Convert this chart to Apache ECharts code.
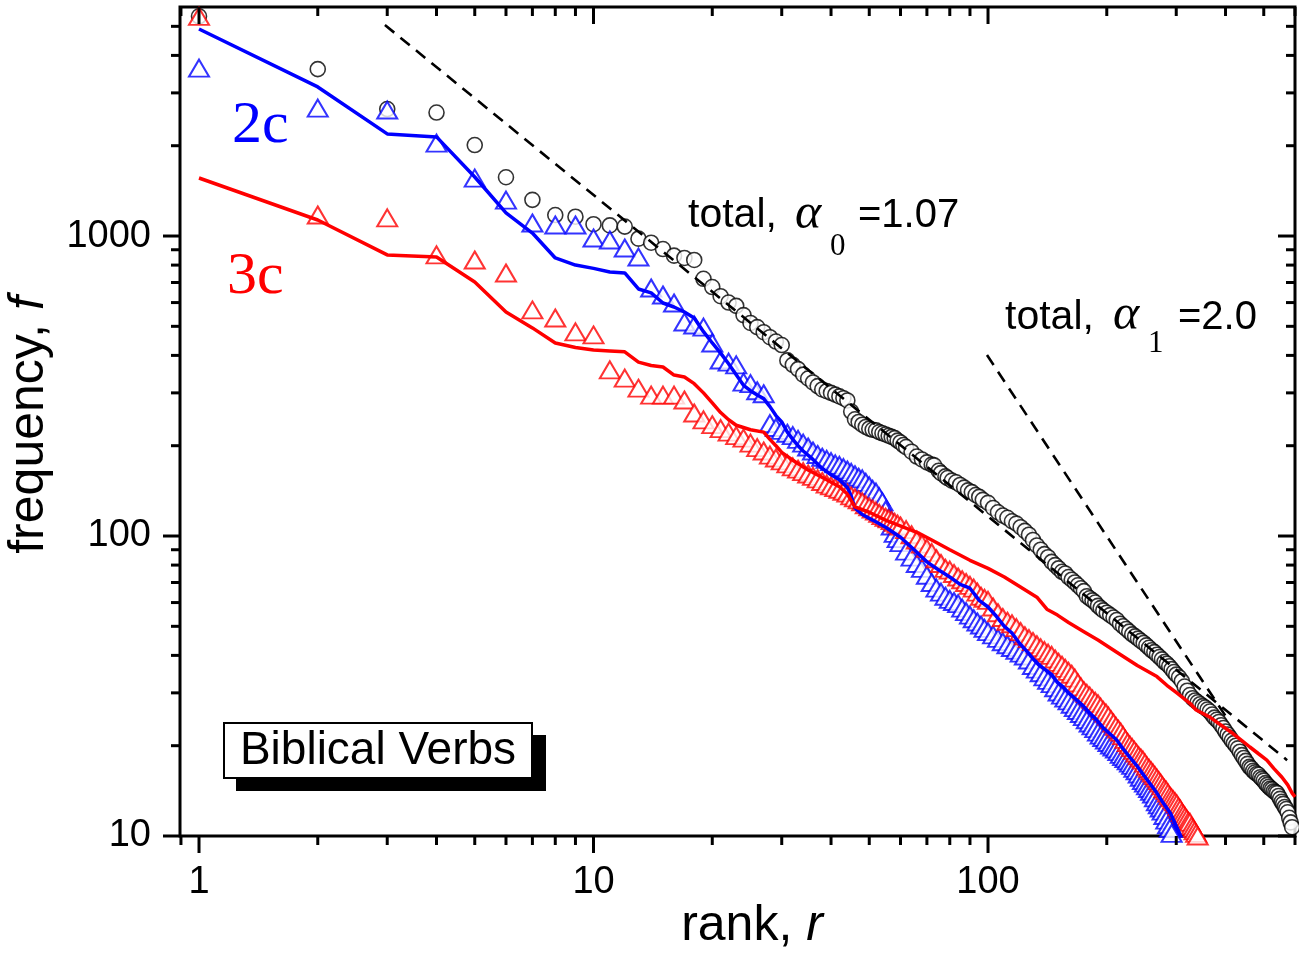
<!DOCTYPE html>
<html>
<head>
<meta charset="utf-8">
<title>Biblical Verbs - rank frequency</title>
<script src="https://cdn.jsdelivr.net/npm/echarts@6/dist/echarts.min.js"></script>
<style>
  html, body { margin: 0; padding: 0; background: #fff; }
  #chart { width: 1299px; height: 961px; }
</style>
</head>
<body>
<div id="chart"></div>
<script>
// ---- data ----
const totalRank = [1,2,3,4,5,6,7,8,9,10,11,12,13,14,15,16,17,18,19,20,21,22,23,24,25,26,27,28,29,30,31,32,33,
  34,35,36,37,38,39,40,41,42,43,44,45,46,47,48,49,50,51,52,53,54,55,56,57,58,59,60,61,62,64,66,68,70,72,73,75,76,78,79,81,83,85,87,89,91,93,95,97,
  100,103,106,109,112,115,118,121,124,127,130,133,136,139,142,145,148,151,154,157,160,163,166,169,172,175,178,181,184,187,190,193,196,
  200,204,208,212,216,220,224,228,232,236,240,244,248,252,256,260,264,268,272,276,280,284,288,292,296,
  300,305,310,315,320,325,330,335,340,345,350,355,360,365,370,375,380,385,390,395,400,405,410,415,420,425,430,435,440,445,
  450,455,460,465,470,475,480,485,490,495,500,505,510,515,520,525,530,535,540,545,550,555,560,565,570,575,580,585,590];
const totalFreq = [5400,3600,2650,2580,2010,1570,1320,1175,1160,1095,1085,1075,980,950,905,860,845,832,720,676,630,600,585,545,513,497,478,460,445,433,385,372,360,
  345,335,325,316,308,304,300,296,292,288,283,260,245,240,235,231,228,226,225,222,220,218,216,214,212,208,205,201,198,191,184,180,176,173,172,165,162,158,156,153,151,148,145,142,140,137,135,132,
  129,124,120,117,115,112,110,107,104,101,97,93,90,87,85,82,80,78,76,75,73,71.5,70,68.5,67,65.5,63,62,61,60,58.5,57.5,56.5,
  55.5,54.5,53.5,52.5,51,50,49,48,47,46.3,45.5,44.7,44,43.2,42.4,41.6,41,40.2,39.5,38.8,38,37.5,36.8,36,35.2,
  34.5,33.8,32.8,31.5,30.5,29.5,28.8,28.3,27.9,27.5,27.1,26.8,26.4,26,25.4,24.8,24.4,24,23.4,22.9,22.3,21.8,21.3,20.8,20.4,20,19.6,19.1,18.6,18.2,
  17.8,17.4,17,16.8,16.5,16.3,16.1,16,15.7,15.5,15.3,15,14.8,14.6,14.4,14.3,14.1,14,13.9,13.6,13.3,13,12.8,12.5,12.3,12,11.5,11.1,10.7];

const twoCRank = [1,2,3,4,5,6,7,8,9,10,11,12,13,14,15,16,17,18,19,20,21,22,23,24,25,26,27,28,29,
  30,31,32,33,34,35,36,37,38,39,40,41,42,43,44,45,46,47,48,49,50,51,52,53,54,55,56,57,58,59,
  60,62,64,66,68,70,72,74,76,78,80,82,84,86,88,90,92,94,96,98,
  100,103,106,109,112,115,118,121,124,127,130,133,136,139,142,145,148,151,154,157,160,163,166,169,172,175,178,181,184,187,190,193,196,199,
  202,205,208,211,214,217,220,223,226,229,232,235,238,241,244,247,250,253,256,259,262,265,268,271,274,277,280,283,286,289,292,295];
const twoCFreq = [3630,2670,2630,2040,1560,1318,1105,1088,1088,985,970,912,851,671,636,598,517,505,497,440,386,380,372,326,322,305,298,237,230,
  225,220,216,210,204,198,192,187,183,180,177,174,172,169,166,163,160,157,155,151,147,143,140,135,130,122,115,108,102,98,
  95,89,85,81,78,74,70,67,65,63,61.5,60.5,59.5,57.5,56,54.5,53,51.7,50.5,49.2,
  48,46.8,45.6,44.4,43.4,42.5,41.6,40.7,39.8,38.6,37,36,35,33.9,33,32.2,31.2,30.2,29.5,28.8,28.2,27.5,26.8,26.2,25.6,25,24.4,23.8,23.3,22.8,22.2,21.7,21.3,20.9,
  20.5,20.1,19.8,19.5,19.1,18.7,18.4,18.1,17.8,17.5,17.2,16.8,16.5,16.1,15.7,15.3,15,14.7,14.4,14.1,13.8,13.4,13,12.7,12.4,12.1,11.7,11.3,10.9,10.6,10.2,9.9];

const threeCRank = [1,2,3,4,5,6,7,8,9,10,11,12,13,14,15,16,17,18,19,20,21,22,23,24,25,26,27,28,29,
  30,31,32,33,34,35,36,37,38,39,40,41,42,43,44,45,46,47,48,49,50,51,52,53,54,55,56,57,58,59,
  60,62,64,66,68,70,72,74,76,78,80,82,84,86,88,90,92,94,96,98,
  100,103,106,109,112,115,118,121,124,127,130,133,136,139,142,145,148,151,154,157,160,163,166,169,172,175,178,181,184,187,190,193,196,199,
  202,205,208,211,214,217,220,223,226,229,232,235,238,241,244,247,250,253,256,259,262,265,268,271,274,277,280,283,286,289,292,295,298,
  301,304,307,310,313,316,319,322,325,328,331,334,337,340];
const threeCFreq = [5400,1175,1150,865,832,753,567,533,479,468,358,336,311,295,295,295,284,257,244,235,228,222,216,212,204,197,192,186,182,
  178,174,170,167,164,161,158,155,152,149,147,145,143,141,139,136,134,132,130,127,125,123,121,119,117,115.5,114,112.5,111,109.5,
  108,105,101,97,94,91,88,84,81,78,77,75,73,71.5,70,68.5,67,65,63,62,
  61,58,55.5,53.5,52,51,49.5,48,46.5,45.5,44.5,43.4,42.4,41.5,40.7,40,38.9,37.9,37.1,36.2,35.4,34.6,33.6,32.4,31.4,30.5,29.9,29.3,28.6,28.1,27.6,26.9,26.2,25.7,
  25.1,24.4,23.8,23.2,22.7,22.2,21.6,21,20.5,20.1,19.7,19.3,18.9,18.5,18.2,17.9,17.5,17.1,16.8,16.5,16.2,15.9,15.6,15.3,15,14.7,14.4,14.2,13.9,13.6,13.4,13.2,13,
  12.8,12.5,12.3,12,11.8,11.6,11.4,11.2,11.1,10.8,10.6,10.4,10.2,10];

const twoCLineRank = [1,2,3,4,5,6,7,8,9,10,11,12,13,14,15,16,17,18,19,20,21,22,23,24,25,26,27,28,29,30,31,32,33,34,
  36,38,40,42,44,45,46,48,51,55,60,65,70,75,80,85,90,95,100,
  105,110,115,120,125,130,135,140,145,150,155,160,168,175,181,188,195,203,212,220,229,238,246,257,268,279,290,301,312];
const twoCLineFreq = [4900,3140,2190,2140,1573,1194,1023,845,800,780,759,753,666,646,598,580,558,533,480,440,407,375,345,318,305,295,287,270,252,240,222,210,200,192,
  180,168,160,154,145,136,124,118,113,107,99,90,82,77,73,69,67,61,58,
  54,50,47.5,44,41.5,39,37,35.8,34.5,32.5,31.4,30,28.4,27,25.7,24.5,23.1,22,20.9,19.5,18.3,17.2,16.2,15,13.9,12.8,11.9,10.7,9.6];

const threeCLineRank = [1,2,3,4,5,6,7,8,9,10,11,12,13,14,15,16,17,18,19,20,21,22,23,
  25,27,28,29,30,32,35,39,42,44,46,50,55,61,67,72,80,90,100,
  110,120,133,141,150,160,175,190,212,239,268,284,301,325,337,365,390,417,440,461,485,509,530,556,575,590,600];
const threeCLineFreq = [1561,1131,865,851,703,558,494,440,425,417,414,411,380,370,366,344,339,322,300,278,258,244,234,
  226,222,210,200,190,179,166,154,146,138,125,120,113,107,102,97,90,83,78,
  73,68,62.5,57,54.5,51.5,48,45,41,37,34,31.8,30,27.7,26.3,24.9,23.4,22,20.8,19.8,18.8,17.9,16.8,15.7,14.8,13.9,13.5];

// fitted power laws, end points as drawn
const fitAlpha0 = [[2.96, 5050], [573, 17.9]];
const fitAlpha1 = [[99.4, 401], [403.6, 24.7]];

const xMajorTicks = [1, 10, 100];
const xMinorTicks = [0.9, 2, 3, 4, 5, 6, 7, 8, 9, 20, 30, 40, 50, 60, 70, 80, 90, 200, 300, 400, 500, 600];
const yMajorTicks = [10, 100, 1000];
const yMinorTicks = [20, 30, 40, 50, 60, 70, 80, 90, 200, 300, 400, 500, 600, 700, 800, 900, 2000, 3000, 4000, 5000];

const SANS = '"Liberation Sans", Arial, sans-serif';
const SERIF = '"Liberation Serif", "Times New Roman", serif';

function zip(a, b) { return a.map((v, i) => [v, b[i]]); }

function powerLabel(v) {
  const e = Math.log10(v);
  return Math.abs(e - Math.round(e)) < 1e-6 ? String(Math.round(v)) : '';
}

function tickLine(x1, y1, x2, y2) {
  return { type: 'line', shape: { x1: x1, y1: y1, x2: x2, y2: y2 }, style: { stroke: '#000', lineWidth: 3 } };
}

// bottom ticks point out, top ticks point in
function renderXTick(params, api) {
  const cs = params.coordSys;
  const px = api.coord([api.value(0), api.value(1)])[0];
  const len = api.value(2) === 1 ? 17 : 9;
  const bottom = cs.y + cs.height;
  return { type: 'group', children: [
    tickLine(px, bottom, px, bottom + len),
    tickLine(px, cs.y, px, cs.y + len)
  ] };
}

// left ticks point out, right ticks point in
function renderYTick(params, api) {
  const cs = params.coordSys;
  const py = api.coord([api.value(0), api.value(1)])[1];
  const len = api.value(2) === 1 ? 17 : 9;
  const right = cs.x + cs.width;
  return { type: 'group', children: [
    tickLine(cs.x - len, py, cs.x, py),
    tickLine(right - len, py, right, py)
  ] };
}

function label(text, x, y, font, color, align) {
  return { type: 'text', x: x, y: y, silent: true,
    style: { text: text, font: font, fill: color, align: align || 'left', verticalAlign: 'middle' } };
}

const chart = echarts.init(document.getElementById('chart'), null, { renderer: 'canvas' });

const option = {
  backgroundColor: '#fff',
  animation: false,
  grid: {
    left: 180, top: 7, right: 4, bottom: 125,
    show: true, borderColor: '#000', borderWidth: 3,
    outerBoundsMode: 'none'
  },
  xAxis: {
    type: 'log', logBase: 10, min: 0.895, max: 600,
    axisLine: { show: false }, axisTick: { show: false }, splitLine: { show: false },
    axisLabel: { formatter: powerLabel, fontSize: 38, fontFamily: SANS, color: '#000', margin: 28 }
  },
  yAxis: {
    type: 'log', logBase: 10, min: 10, max: 5800,
    axisLine: { show: false }, axisTick: { show: false }, splitLine: { show: false },
    axisLabel: { formatter: powerLabel, fontSize: 38, fontFamily: SANS, color: '#000', margin: 29 }
  },
  series: [
    {
      name: 'total', type: 'scatter', z: 2,
      data: zip(totalRank, totalFreq),
      symbol: 'circle', symbolSize: 15,
      itemStyle: { color: '#fff', borderColor: '#000', borderWidth: 1.6 }
    },
    {
      name: '2c', type: 'scatter', z: 3,
      data: zip(twoCRank, twoCFreq),
      symbol: 'triangle', symbolSize: [20, 17],
      itemStyle: { color: '#fff', borderColor: '#0000ff', borderWidth: 2 }
    },
    {
      name: '3c', type: 'scatter', z: 4,
      data: zip(threeCRank, threeCFreq),
      symbol: 'triangle', symbolSize: [20, 17],
      itemStyle: { color: '#fff', borderColor: '#ff0000', borderWidth: 2 }
    },
    {
      name: '2c line', type: 'line', z: 5,
      data: zip(twoCLineRank, twoCLineFreq),
      showSymbol: false, symbol: 'none',
      lineStyle: { color: '#0000ff', width: 3.5 }
    },
    {
      name: '3c line', type: 'line', z: 5,
      data: zip(threeCLineRank, threeCLineFreq),
      showSymbol: false, symbol: 'none',
      lineStyle: { color: '#ff0000', width: 3.5 }
    },
    {
      name: 'alpha0', type: 'line', z: 6, data: fitAlpha0, symbol: 'none',
      lineStyle: { color: '#000', width: 2.6, type: [12, 8] }
    },
    {
      name: 'alpha1', type: 'line', z: 6, data: fitAlpha1, symbol: 'none',
      lineStyle: { color: '#000', width: 2.6, type: [12, 8] }
    },
    {
      type: 'custom', z: 7, silent: true, clip: false,
      renderItem: renderXTick, encode: { x: 0, y: 1 },
      data: xMajorTicks.map(v => [v, 100, 1]).concat(xMinorTicks.map(v => [v, 100, 0]))
    },
    {
      type: 'custom', z: 7, silent: true, clip: false,
      renderItem: renderYTick, encode: { x: 0, y: 1 },
      data: yMajorTicks.map(v => [1, v, 1]).concat(yMinorTicks.map(v => [1, v, 0]))
    }
  ],
  graphic: [
    // axis titles
    { type: 'text', x: 752, y: 926, silent: true,
      style: { text: 'rank, {i|r}', font: '50px ' + SANS, fill: '#000', align: 'center', verticalAlign: 'middle',
        rich: { i: { font: 'italic 50px ' + SANS, fill: '#000' } } } },
    { type: 'text', x: 29, y: 425, rotation: Math.PI / 2, silent: true,
      style: { text: 'frequency, {i|f}', font: '50px ' + SANS, fill: '#000', align: 'center', verticalAlign: 'middle',
        rich: { i: { font: 'italic 50px ' + SANS, fill: '#000' } } } },
    // series tags
    label('2c', 232, 126, '60px ' + SERIF, '#0000ff'),
    label('3c', 227, 277, '60px ' + SERIF, '#ff0000'),
    // fit annotations
    label('total,', 688, 216, '41px ' + SANS, '#000'),
    label('\u03b1', 795, 215, 'italic 50px ' + SERIF, '#000'),
    label('0', 830, 247, '31px ' + SERIF, '#000'),
    label('=1.07', 858, 216, '40px ' + SANS, '#000'),
    label('total,', 1005, 318, '41px ' + SANS, '#000'),
    label('\u03b1', 1113, 316, 'italic 50px ' + SERIF, '#000'),
    label('1', 1148, 344, '31px ' + SERIF, '#000'),
    label('=2.0', 1178, 318, '40px ' + SANS, '#000'),
    // boxed title with drop shadow
    { type: 'rect', silent: true, shape: { x: 236, y: 735, width: 310, height: 56 }, style: { fill: '#000' } },
    { type: 'rect', silent: true, shape: { x: 224, y: 723, width: 308, height: 55 },
      style: { fill: '#fff', stroke: '#000', lineWidth: 2 } },
    label('Biblical Verbs', 378, 751, '46px ' + SANS, '#000', 'center')
  ]
};

chart.setOption(option);
</script>
</body>
</html>
